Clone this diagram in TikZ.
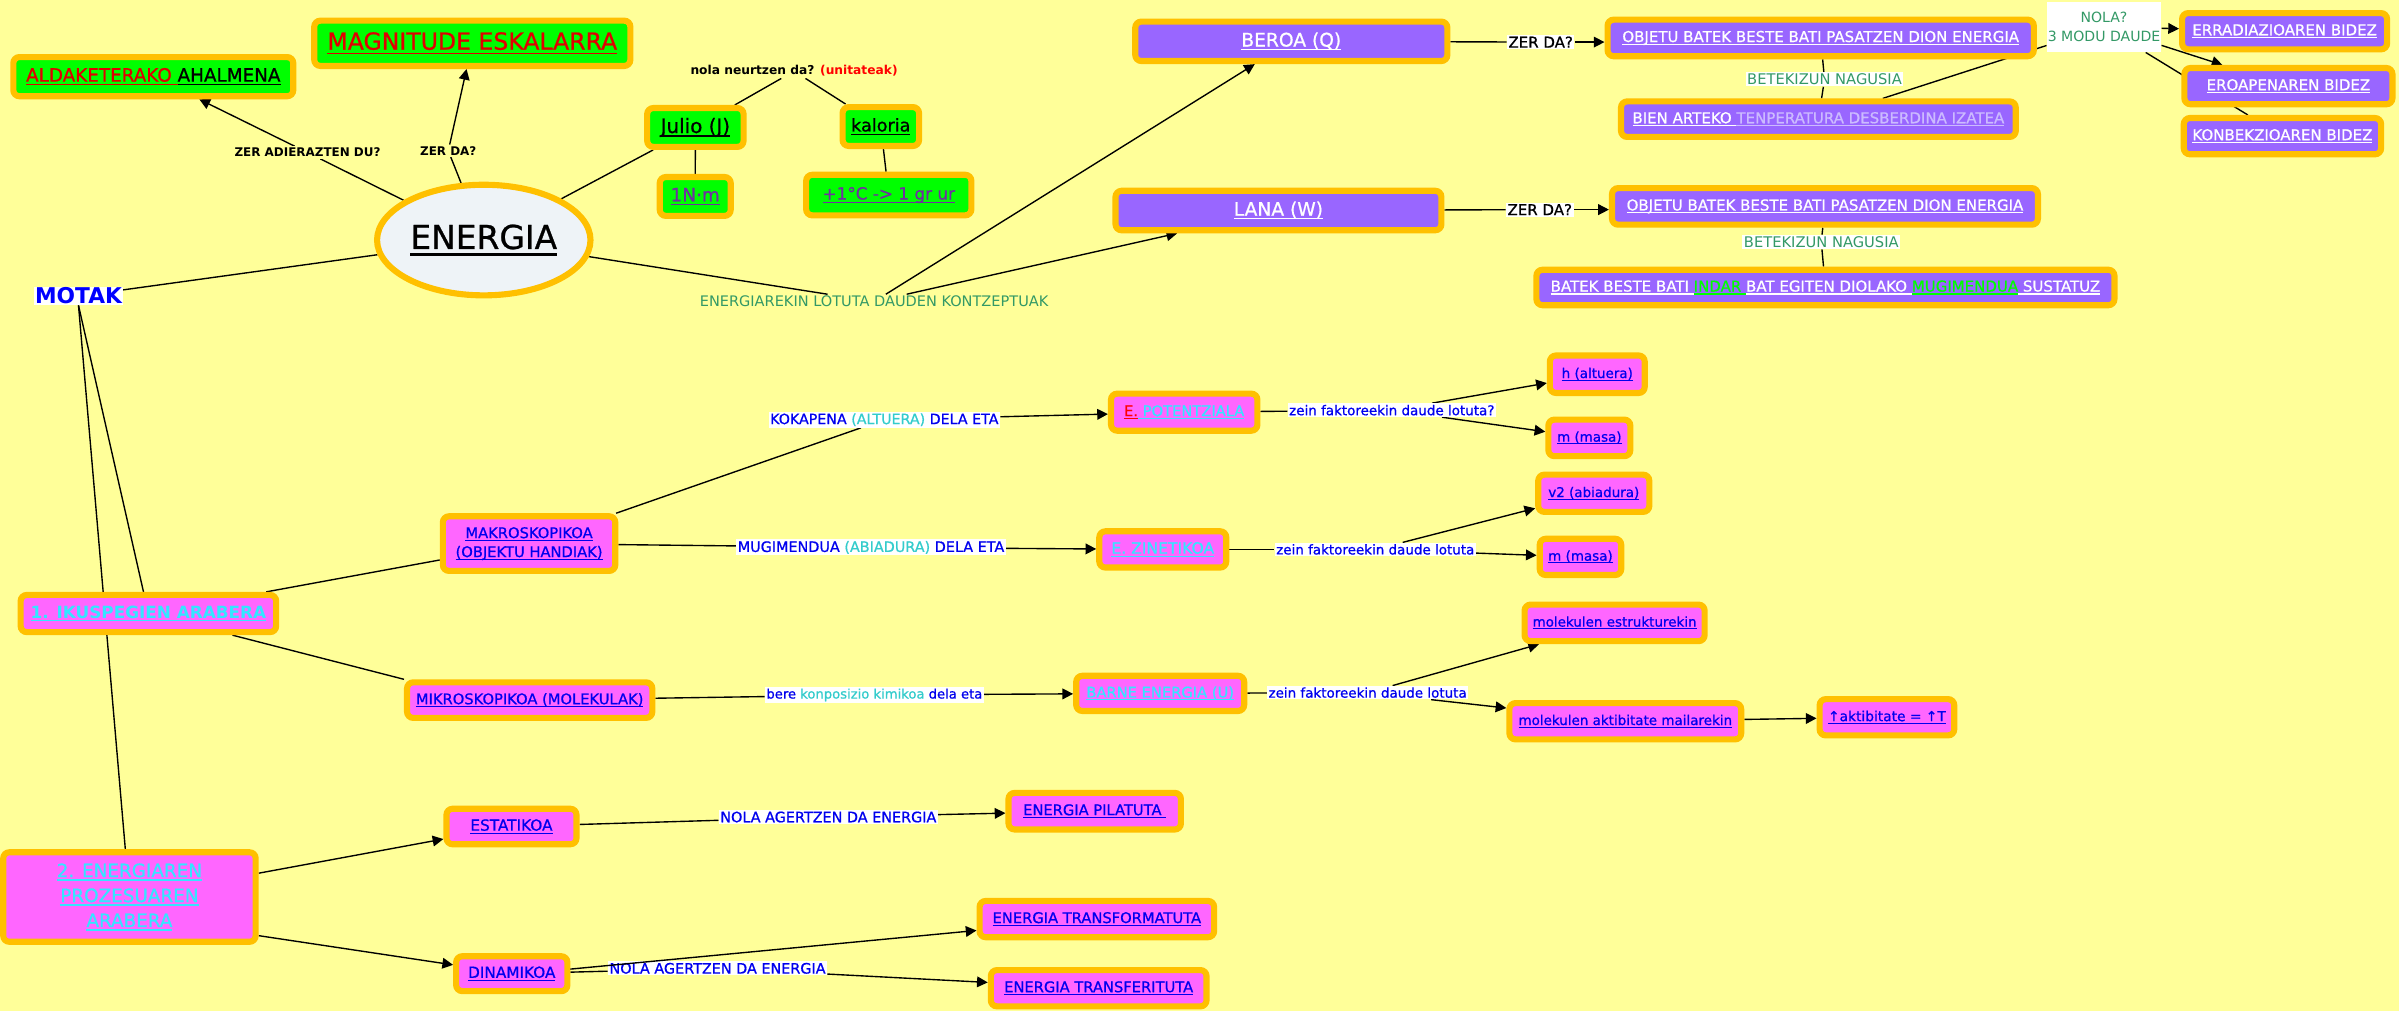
\documentclass[tikz,border=0pt]{standalone}
\usepackage{fontspec}
\setmainfont{DejaVu Sans}
\newfontfamily\semib[FakeBold=0.8]{DejaVu Sans}
\usetikzlibrary{arrows.meta,shapes.geometric,calc}
\definecolor{bgc}{HTML}{FFFF99}
\definecolor{orng}{HTML}{FFC000}
\definecolor{grn}{HTML}{00FF00}
\definecolor{purp}{HTML}{9966FF}
\definecolor{mag}{HTML}{FF66FF}
\definecolor{ellf}{HTML}{EEF3F7}
\definecolor{alred}{HTML}{E00000}
\definecolor{tpurp}{HTML}{7030A0}
\definecolor{tcyan}{HTML}{33E6FF}
\definecolor{tblue}{HTML}{0000EE}
\definecolor{tteal}{HTML}{33CCCC}
\definecolor{tgreen}{HTML}{339966}
\definecolor{lav}{HTML}{CCBBFF}
\definecolor{igreen}{HTML}{00FF00}
\pgfdeclarelayer{back}
\pgfdeclarelayer{lines}
\pgfsetlayers{back,lines,main}
\newcommand\fsz[2]{\fontsize{#1}{#2}\selectfont}
\newcommand\ulx[1]{\setbox0\hbox{#1}\rlap{\rule[-0.2em]{\wd0}{0.075em}}\box0}
\tikzset{
 cbox/.style={draw=orng, line width=4pt, rounded corners=4pt, inner sep=1pt, align=center},
 gbox/.style={cbox, fill=grn},
 pbox/.style={cbox, fill=purp, text=white, font=\semib\fsz{9.8}{11.8}},
 mbox/.style={cbox, fill=mag, text=tblue, font=\semib\fsz{9.6}{11.5}},
 lbox/.style={mbox, font=\semib\fsz{8.8}{10.5}},
 sz/.style 2 args={minimum width={#1-4}, minimum height={#2-4}},
 lbl/.style={fill=white, inner sep=1pt, align=center},
 blbl/.style={lbl, text=tblue, font=\semib\fsz{9.4}{11}},
 conn/.style={draw=black, line width=0.9pt},
 arr/.style={conn, -{Triangle[length=7pt,width=7pt]}},
}
\begin{document}
\begin{tikzpicture}[x=1pt,y=-1pt]
\useasboundingbox (0,0) rectangle (1568,661);
\begin{pgfonlayer}{back}
\fill[bgc] (0,0) rectangle (1568,661);
\end{pgfonlayer}

% green boxes
\node[gbox, sz={187}{29.6}, font=\semib\fsz{12}{14}] (ald) at (100.2,50.1) {{\color{alred}\ulx{ALDAKETERAKO~}}\ulx{AHALMENA}};
\node[gbox, sz={210.6}{33.6}, font=\semib\fsz{15.4}{18}, text=alred] (mag) at (308.7,28.3) {\ulx{MAGNITUDE ESKALARRA}};
\node[gbox, sz={67}{29.4}, font=\semib\fsz{13}{15}] (julio) at (454.5,83.3) {\ulx{Julio (J)}};
\node[gbox, sz={54}{29.4}, font=\semib\fsz{11.5}{14}] (kal) at (575.7,82.7) {\ulx{kaloria}};
\node[gbox, sz={50.4}{29.4}, font=\semib\fsz{12}{14}, text=tpurp] (nm) at (454.4,128.4) {\ulx{1N·m}};
\node[gbox, sz={112}{30.5}, font=\semib\fsz{11}{13}, text=tpurp] (cal) at (580.9,127.5) {\ulx{+1°C -> 1 gr ur}};

% central ellipse
\node[ellipse, draw=orng, line width=4pt, fill=ellf, minimum width=139.5, minimum height=72.3, inner sep=0pt, font=\semib\fsz{21.5}{25}] (energ) at (316.2,156.9) {\ulx{ENERGIA}};

% purple boxes
\node[pbox, sz={208}{29.8}, font=\semib\fsz{12.2}{14}] (beroa) at (844,27) {\ulx{BEROA (Q)}};
\node[pbox, sz={217}{29.8}, font=\semib\fsz{12.2}{14}] (lana) at (835.6,137.6) {\ulx{LANA (W)}};
\node[pbox, sz={282.6}{27.9}] (obj1) at (1190,24.8) {\ulx{OBJETU BATEK BESTE BATI PASATZEN DION ENERGIA}};
\node[pbox, sz={262}{27.2}] (bien) at (1188.5,77.9) {\ulx{BIEN ARTEKO~}{\color{lav}\ulx{TENPERATURA DESBERDINA IZATEA}}};
\node[pbox, sz={282.4}{27.9}] (obj2) at (1192.8,134.9) {\ulx{OBJETU BATEK BESTE BATI PASATZEN DION ENERGIA}};
\node[pbox, sz={381.8}{27.2}] (batek) at (1193.1,187.9) {\ulx{BATEK BESTE BATI~}{\color{igreen}\ulx{INDAR~}}\ulx{BAT EGITEN DIOLAKO~}{\color{igreen}\ulx{MUGIMENDUA}}\ulx{~SUSTATUZ}};
\node[pbox, sz={138}{27.7}] (errad) at (1493.2,20.4) {\ulx{ERRADIAZIOAREN BIDEZ}};
\node[pbox, sz={140}{27.7}] (eroap) at (1495.7,56.3) {\ulx{EROAPENAREN BIDEZ}};
\node[pbox, sz={133}{27.7}] (konb) at (1491.8,89) {\ulx{KONBEKZIOAREN BIDEZ}};

% magenta boxes
\node[mbox, sz={171}{28.3}, font=\fsz{11}{13}\bfseries, text=tcyan] (iku) at (97,401) {\ulx{1. IKUSPEGIEN ARABERA}};
\node[mbox, sz={116.7}{39.7}, font=\semib\fsz{9.6}{12.4}] (makro) at (345.8,355.3) {\ulx{MAKROSKOPIKOA}\\\ulx{(OBJEKTU HANDIAK)}};
\node[mbox, sz={164.3}{27.2}] (mikro) at (346.2,457.6) {\ulx{MIKROSKOPIKOA (MOLEKULAK)}};
\node[mbox, sz={99.7}{28.2}] (pot) at (774,269.4) {{\color{red}\ulx{E.}}{\color{tcyan}\ulx{~POTENTZIALA}}};
\node[mbox, sz={87}{27.7}, font=\semib\fsz{10.2}{12}, text=tcyan] (zin) at (760,359.1) {\ulx{E. ZINETIKOA}};
\node[mbox, sz={113.8}{27}, text=tcyan] (barne) at (758.3,453.2) {\ulx{BARNE ENERGIA (U)}};
\node[lbox, sz={66}{28.5}] (halt) at (1044,244.6) {\ulx{h (altuera)}};
\node[lbox, sz={57.6}{27.9}] (ma) at (1038.8,286.2) {\ulx{m (masa)}};
\node[lbox, sz={76.6}{28.3}] (vb) at (1041.7,322.4) {\ulx{v2 (abiadura)}};
\node[lbox, sz={57.3}{27.7}] (mb) at (1033,364) {\ulx{m (masa)}};
\node[lbox, sz={121.7}{27.9}] (estr) at (1055.3,407.1) {\ulx{molekulen estrukturekin}};
\node[lbox, sz={155.5}{27.7}] (aktib) at (1062.3,471.4) {\ulx{molekulen aktibitate mailarekin}};
\node[mbox, sz={92}{27.7}, font=\semib\fsz{9}{11}] (upakt) at (1233.3,468.8) {\ulx{↑aktibitate = ↑T}};
\node[mbox, sz={169}{62.5}, font=\semib\fsz{12}{16.3}, text=tcyan] (ener2) at (84.6,586.3) {\ulx{2. ENERGIAREN}\\\ulx{PROZESUAREN}\\\ulx{ARABERA}};
\node[mbox, sz={89}{27.2}, font=\semib\fsz{10}{12}] (estat) at (334.3,540.2) {\ulx{ESTATIKOA}};
\node[mbox, sz={76.7}{26.8}, font=\semib\fsz{10}{12}] (dinam) at (334.5,636.4) {\ulx{DINAMIKOA}};
\node[mbox, sz={116.7}{27.9}] (pilat) at (715.5,530.2) {\ulx{ENERGIA PILATUTA~}};
\node[mbox, sz={157.3}{27.7}] (transf) at (716.9,600.7) {\ulx{ENERGIA TRANSFORMATUTA}};
\node[mbox, sz={145}{27.7}] (transfer) at (718.1,645.9) {\ulx{ENERGIA TRANSFERITUTA}};

% labels
\node[fill=bgc, inner sep=1pt, font=\fsz{7.8}{9}\bfseries] (lzer1) at (201,99.7) {ZER ADIERAZTEN DU?};
\node[fill=bgc, inner sep=1pt, font=\fsz{7.8}{9}\bfseries] (lzer2) at (293,98.6) {ZER DA?};
\node[fill=bgc, inner sep=1pt, font=\fsz{8}{9.5}\bfseries] (lnola) at (519,46.5) {nola neurtzen da? \textcolor{red}{(unitateak)}};
\node[lbl, inner sep=0.5pt, font=\fsz{14.2}{16}\bfseries, text=blue] (motak) at (51.3,193.5) {MOTAK};
\node[fill=bgc, inner sep=1pt, font=\fsz{9.5}{11}, text=tgreen] (lkonz) at (571.3,197.1) {ENERGIAREKIN LOTUTA DAUDEN KONTZEPTUAK};
\node[lbl, font=\semib\fsz{9.8}{11}] (lzd1) at (1007,27.5) {ZER DA?};
\node[lbl, font=\semib\fsz{9.8}{11}] (lzd2) at (1006.4,137) {ZER DA?};
\node[lbl, font=\fsz{9.6}{11}, text=tgreen] (lbet1) at (1192.5,51.9) {BETEKIZUN NAGUSIA};
\node[lbl, font=\fsz{9.6}{11}, text=tgreen] (lbet2) at (1190.4,158.2) {BETEKIZUN NAGUSIA};
\node[lbl, inner sep=0.5pt, minimum width=74.8, minimum height=33, font=\fsz{9.2}{12.7}, text=tgreen] (lnola2) at (1375.2,17.6) {NOLA?\\3 MODU DAUDE};
\node[blbl, font=\semib\fsz{9.3}{11}] (lkok) at (578,274.3) {KOKAPENA \textcolor{tteal}{(ALTUERA)} DELA ETA};
\node[blbl] (lmug) at (569.3,357.8) {MUGIMENDUA \textcolor{tteal}{(ABIADURA)} DELA ETA};
\node[blbl, font=\semib\fsz{8.6}{10}] (lbere) at (571.5,454.2) {bere \textcolor{tteal}{konposizio kimikoa} dela eta};
\node[blbl, font=\semib\fsz{8.8}{10}] (lzein1) at (909.7,268.1) {zein faktoreekin daude lotuta?};
\node[blbl, font=\semib\fsz{8.8}{10}] (lzein2) at (898.9,359.1) {zein faktoreekin daude lotuta};
\node[blbl, font=\semib\fsz{8.8}{10}] (lzein3) at (893.9,452.7) {zein faktoreekin daude lotuta};
\node[blbl] (lnag1) at (541.4,534) {NOLA AGERTZEN DA ENERGIA};
\node[blbl] (lnag2) at (469,632.9) {NOLA AGERTZEN DA ENERGIA};

\begin{pgfonlayer}{lines}
\draw[conn] (energ) -- (lzer1); \draw[arr] (lzer1) -- (ald);
\draw[conn] (energ) -- (lzer2); \draw[arr] (lzer2) -- (mag);
\draw[conn] (energ) -- (julio);
\draw[conn] (julio) -- (lnola); \draw[conn] (lnola) -- (kal);
\draw[conn] (julio) -- (nm); \draw[conn] (kal) -- (cal);
\draw[conn] (motak) -- (energ);
\draw[conn] (energ) -- (lkonz);
\draw[arr] (lkonz) -- (beroa); \draw[arr] (lkonz) -- (lana);
\draw[conn] (beroa) -- (lzd1); \draw[arr] (lzd1.east) -- (lzd1.east -| obj1.west);
\draw[conn] (lana) -- (lzd2); \draw[arr] (lzd2.east) -- (lzd2.east -| obj2.west);
\draw[conn] (obj1) -- (lbet1); \draw[conn] (lbet1) -- (bien);
\draw[conn] (obj2) -- (lbet2); \draw[conn] (lbet2) -- (batek);
\draw[conn] (bien) -- (lnola2);
\draw[arr] (lnola2) -- (errad); \draw[arr] (lnola2) -- (eroap); \draw[conn] (lnola2) -- (konb);
\draw[conn] (motak.south) -- (iku); \draw[conn] (motak.south) -- (ener2);
\draw[conn] (iku) -- (makro); \draw[conn] (iku) -- (mikro.north west);
\draw[conn] (makro) -- (lkok); \draw[arr] (lkok) -- (pot);
\draw[conn] (makro) -- (lmug); \draw[arr] (lmug) -- (zin);
\draw[conn] (mikro) -- (lbere); \draw[arr] (lbere) -- (barne);
\draw[conn] (pot) -- (lzein1); \draw[arr] (lzein1) -- (halt); \draw[arr] (lzein1) -- (ma);
\draw[conn] (zin) -- (lzein2); \draw[arr] (lzein2) -- (vb); \draw[arr] (lzein2) -- (mb);
\draw[conn] (barne) -- (lzein3); \draw[arr] (lzein3) -- (estr); \draw[arr] (lzein3) -- (aktib);
\draw[arr] (aktib) -- (upakt);
\draw[arr] (ener2) -- (estat); \draw[arr] ($(ener2.south east)+(0,-6)$) -- (dinam);
\draw[conn] (estat) -- (lnag1); \draw[arr] (lnag1) -- (pilat);
\draw[conn] (dinam) -- (lnag2); \draw[arr] (lnag2) -- (transfer);
\end{pgfonlayer}
\draw[arr] ($(dinam.east)+(0,-3)$) -- (transf);
\end{tikzpicture}
\end{document}
